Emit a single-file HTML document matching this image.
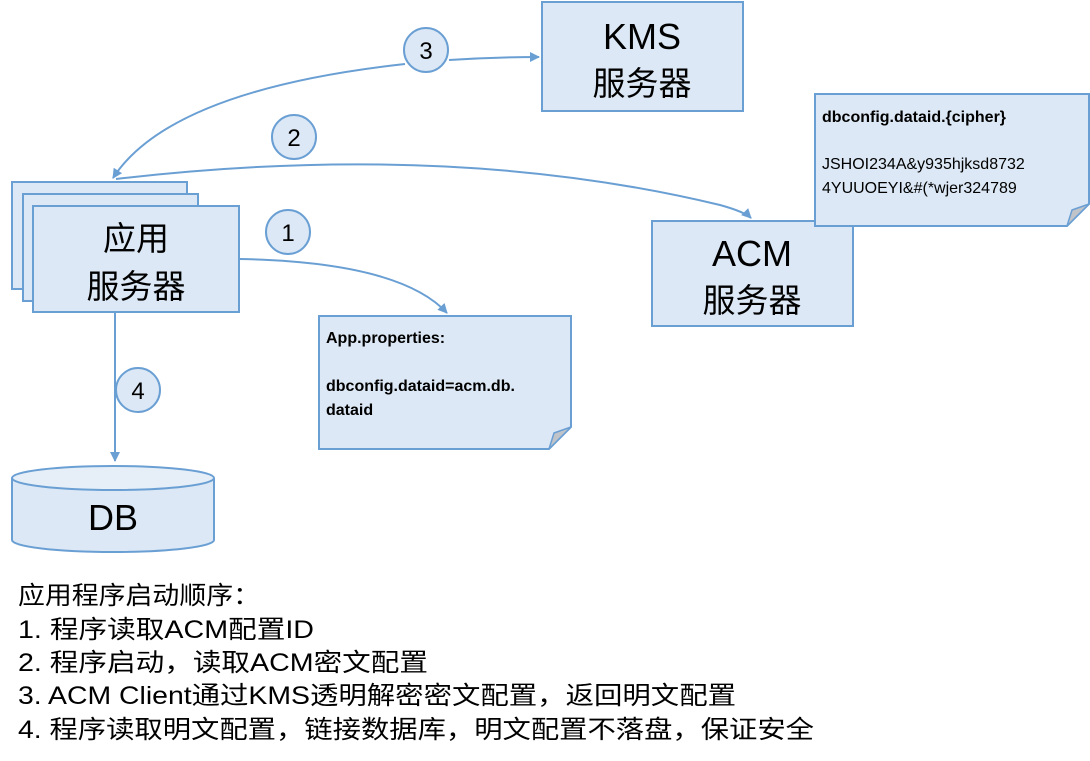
<!DOCTYPE html>
<html><head><meta charset="utf-8"><style>
body{margin:0;background:#fff}
svg{display:block}
text{font-family:"Liberation Sans","Noto Sans CJK SC",sans-serif;fill:#000}
</style></head><body>
<svg width="1090" height="761" viewBox="0 0 1090 761" xmlns="http://www.w3.org/2000/svg">
<defs>
<marker id="ar" markerWidth="10" markerHeight="10" refX="9" refY="5" orient="auto" markerUnits="userSpaceOnUse">
<path d="M0,0 L10,5 L0,10 z" fill="#6a9fd4"/>
</marker>
</defs>
<g stroke="#6a9fd4" stroke-width="2" fill="none">
<path d="M449,60 Q495,57 539,57" marker-end="url(#ar)"/>
<path d="M405,64 Q170,90 113,178" marker-end="url(#ar)"/>
<path d="M116,179 Q450,140 720,205 Q745,212 751,218" marker-end="url(#ar)"/>
<path d="M239,259 Q400,262 447,313" marker-end="url(#ar)"/>
<path d="M115,312 L115,461" marker-end="url(#ar)"/>
</g>
<g stroke="#6a9fd4" stroke-width="2" fill="#dce8f5">
<rect x="542" y="2" width="201" height="109"/>
<rect x="12" y="182" width="175" height="107"/>
<rect x="23" y="194" width="175" height="107"/>
<rect x="33" y="206" width="206" height="106"/>
<rect x="652" y="221" width="201" height="105"/>
<path d="M815,94 L1089,94 L1089,204 L1067,226 L815,226 Z"/>
<path d="M319,316 L571,316 L571,427 L549,449 L319,449 Z"/>
<path d="M12,478 L12,540 A101,12 0 0 0 214,540 L214,478"/>
<ellipse cx="113" cy="478" rx="101" ry="12" fill="#e6eff8"/>
<circle cx="426" cy="50" r="22"/>
<circle cx="294" cy="137" r="22"/>
<circle cx="288" cy="232" r="22"/>
<circle cx="138" cy="390" r="22"/>
</g>
<g fill="#c0c4c9" stroke="#6a9fd4" stroke-width="1.5">
<path d="M1089,204 L1072,210 L1067,226 Z"/>
<path d="M571,427 L554,433 L549,449 Z"/>
</g>
<g font-size="24" text-anchor="middle">
<text x="426" y="59">3</text>
<text x="294" y="146">2</text>
<text x="288" y="241">1</text>
<text x="138" y="399">4</text>
</g>
<g font-size="36" text-anchor="middle">
<text x="642" y="49">KMS</text>
<text x="642" y="95" font-size="33">服务器</text>
<text x="136" y="250" font-size="33">应用</text>
<text x="136" y="298" font-size="33">服务器</text>
<text x="752" y="266">ACM</text>
<text x="752" y="312" font-size="33">服务器</text>
<text x="113" y="530">DB</text>
</g>
<g font-size="16">
<text x="822" y="122" font-weight="bold">dbconfig.dataid.{cipher}</text>
<text x="822" y="169">JSHOI234A&amp;y935hjksd8732</text>
<text x="822" y="193">4YUUOEYI&amp;#(*wjer324789</text>
<text x="326" y="343" font-weight="bold">App.properties:</text>
<text x="326" y="391" font-weight="bold">dbconfig.dataid=acm.db.</text>
<text x="326" y="415" font-weight="bold">dataid</text>
</g>
<g font-size="25">
<text x="18" y="604" textLength="242" lengthAdjust="spacingAndGlyphs">应用程序启动顺序：</text>
<text x="18" y="638" textLength="296" lengthAdjust="spacingAndGlyphs">1.  程序读取ACM配置ID</text>
<text x="18" y="671" textLength="410" lengthAdjust="spacingAndGlyphs">2.  程序启动，读取ACM密文配置</text>
<text x="18" y="704" textLength="718" lengthAdjust="spacingAndGlyphs">3.  ACM Client通过KMS透明解密密文配置，返回明文配置</text>
<text x="18" y="738" textLength="796" lengthAdjust="spacingAndGlyphs">4.  程序读取明文配置，链接数据库，明文配置不落盘，保证安全</text>
</g>
</svg>
</body></html>
